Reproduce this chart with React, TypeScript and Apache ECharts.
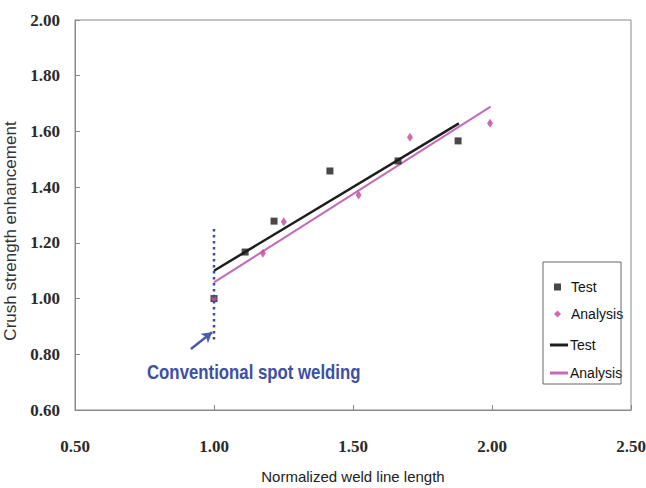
import React, { useEffect, useRef } from "react";
import * as echarts from "echarts";

const xTicks = [0.5, 1.0, 1.5, 2.0, 2.5];
const yTicks = [0.6, 0.8, 1.0, 1.2, 1.4, 1.6, 1.8, 2.0];

const testPoints: [number, number][] = [
  [1.0, 1.0],
  [1.112, 1.167],
  [1.216, 1.278],
  [1.417, 1.458],
  [1.662, 1.494],
  [1.878, 1.566],
];
const analysisPoints: [number, number][] = [
  [1.0, 1.0],
  [1.176, 1.163],
  [1.251, 1.276],
  [1.52, 1.372],
  [1.705, 1.579],
  [1.993, 1.629],
];
const testFit: [number, number][] = [
  [1.0, 1.1],
  [1.881, 1.629],
];
const analysisFit: [number, number][] = [
  [1.0, 1.058],
  [1.995, 1.689],
];
const spotLine: [number, number][] = [
  [1.0, 1.25],
  [1.0, 0.845],
];
const arrowFrom: [number, number] = [0.917, 0.819];
const arrowTo: [number, number] = [0.993, 0.879];

const SERIF = "Liberation Serif";
const SANS = "Liberation Sans";

export default function App() {
  const ref = useRef<HTMLDivElement>(null);
  useEffect(() => {
    if (!ref.current) return;
    const chart = echarts.init(ref.current, undefined, { renderer: "svg" });
    const tickLabel = {
      fontFamily: SERIF,
      fontSize: 17,
      fontWeight: "bold",
      color: "#2a2a2a",
      formatter: (v: number) => v.toFixed(2),
    };
    chart.setOption({
      animation: false,
      backgroundColor: "#ffffff",
      grid: {
        left: 75,
        right: 15,
        top: 20,
        bottom: 78,
        containLabel: false,
        outerBoundsMode: "none",
        show: true,
        borderColor: "#8a8a8a",
        borderWidth: 1,
      },
      xAxis: {
        type: "value",
        min: xTicks[0],
        max: xTicks[xTicks.length - 1],
        interval: 0.5,
        name: "Normalized weld line length",
        nameLocation: "middle",
        nameGap: 59,
        nameTextStyle: { fontFamily: SANS, fontSize: 15, color: "#222" },
        axisLine: { show: true, lineStyle: { color: "#8a8a8a" } },
        axisTick: { show: true, inside: true, length: 5, lineStyle: { color: "#8a8a8a" } },
        splitLine: { show: false },
        axisLabel: { ...tickLabel, margin: 28 },
      },
      yAxis: {
        type: "value",
        min: yTicks[0],
        max: yTicks[yTicks.length - 1],
        interval: 0.2,
        name: "Crush strength enhancement",
        nameLocation: "middle",
        nameGap: 32,
        nameTextStyle: {
          fontFamily: SANS,
          fontSize: 17,
          color: "#333",
          padding: [0, 32, 0, 0],
        },
        axisLine: { show: true, lineStyle: { color: "#8a8a8a" } },
        axisTick: { show: true, inside: true, length: 5, lineStyle: { color: "#8a8a8a" } },
        splitLine: { show: false },
        axisLabel: { ...tickLabel, margin: 15 },
      },
      legend: [
        {
          orient: "vertical",
          left: 549,
          top: 273,
          itemWidth: 7,
          itemHeight: 7,
          itemGap: 9,
          selectedMode: false,
          textStyle: { fontFamily: SANS, fontSize: 14, color: "#111", lineHeight: 18, padding: [0, 0, 0, 5] },
          data: [
            { name: "Test", icon: "rect" },
            { name: "Analysis", icon: "diamond" },
          ],
        },
        {
          orient: "vertical",
          left: 545,
          top: 331,
          itemWidth: 18,
          itemHeight: 3,
          itemGap: 10,
          selectedMode: false,
          formatter: (n: string) => n.replace(" line", ""),
          textStyle: { fontFamily: SANS, fontSize: 14, color: "#111", lineHeight: 18, padding: [0, 0, 0, -3] },
          data: [
            { name: "Test line", icon: "rect" },
            { name: "Analysis line", icon: "rect" },
          ],
        },
      ],
      graphic: [
        {
          type: "rect",
          shape: { x: 543, y: 262, width: 78, height: 122 },
          style: { fill: "none", stroke: "#666", lineWidth: 1 },
          z: 10,
        },
        {
          type: "text",
          x: 147,
          y: 372,
          scaleX: 0.84,
          style: {
            text: "Conventional spot welding",
            fontFamily: SANS,
            fontSize: 20,
            fontWeight: "bold",
            fill: "#3d4fa3",
            verticalAlign: "middle",
          },
          z: 10,
        },
      ],
      series: [
        {
          name: "Test line",
          type: "line",
          data: testFit,
          symbol: "none",
          lineStyle: { color: "#1e1e1e", width: 2.5 },
          itemStyle: { color: "#1e1e1e" },
          z: 3,
        },
        {
          name: "Analysis line",
          type: "line",
          data: analysisFit,
          symbol: "none",
          lineStyle: { color: "#c46bb8", width: 2 },
          itemStyle: { color: "#c46bb8" },
          z: 3,
        },
        {
          name: "Test",
          type: "scatter",
          data: testPoints,
          symbol: "rect",
          symbolSize: 7,
          itemStyle: { color: "#1a1a1a" },
          z: 4,
        },
        {
          name: "Analysis",
          type: "scatter",
          data: analysisPoints,
          symbol: "diamond",
          symbolSize: [6, 9],
          itemStyle: { color: "#c8509f", opacity: 0.85 },
          z: 5,
        },
        {
          name: "Conventional",
          type: "line",
          data: spotLine,
          symbol: "none",
          lineStyle: { color: "#3b4ba5", width: 2.5, type: [2.5, 3.5] },
          z: 6,
          markLine: {
            silent: true,
            symbol: ["none", "arrow"],
            symbolSize: [9, 10],
            label: { show: false },
            lineStyle: { color: "#4a5ab0", width: 2.5, type: "solid" },
            data: [[{ coord: arrowFrom }, { coord: arrowTo }]],
          },
        },
      ],
    });
    return () => chart.dispose();
  }, []);
  return <div ref={ref} style={{ width: 646, height: 488, position: "absolute", left: 0, top: 0 }} />;
}
